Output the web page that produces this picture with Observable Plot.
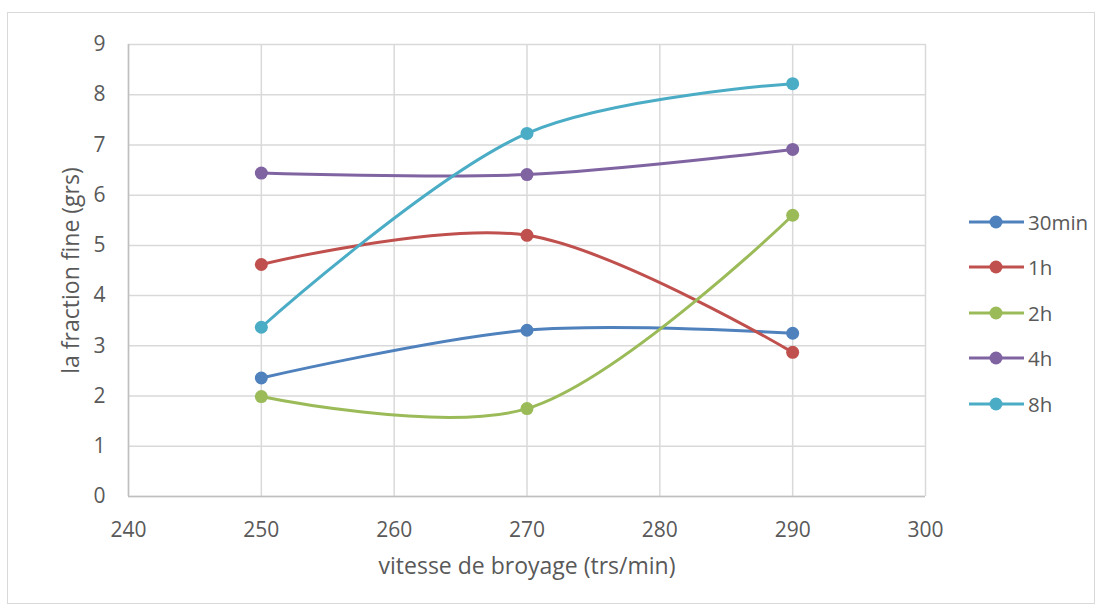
<!DOCTYPE html>
<html>
<head>
<meta charset="utf-8">
<script src="https://cdn.jsdelivr.net/npm/d3@7"></script>
<script src="https://cdn.jsdelivr.net/npm/@observablehq/plot@0.6"></script>
<style>
  html, body { margin: 0; padding: 0; background: #fff; }
  #wrap { position: relative; width: 1102px; height: 608px; font-family: "Open Sans", sans-serif; }
  #frame { position: absolute; left: 7px; top: 12px; width: 1088px; height: 592px; border: 1px solid #d9d9d9; box-sizing: border-box; }
  #chart { position: absolute; left: 0; top: 0; }
  #legend { position: absolute; left: 969px; top: 199px; }
  .item { display: flex; align-items: center; height: 45.5px; font-size: 20.5px; color: #595959; }
  .item svg { margin-right: 4px; }
</style>
</head>
<body>
<div id="wrap">
  <div id="frame"></div>
  <div id="chart"></div>
  <div id="legend"></div>
</div>
<script>
const speeds = [250, 270, 290];
const seriesNames = ["30min", "1h", "2h", "4h", "8h"];
const v30min = [2.36, 3.31, 3.25];
const v1h = [4.62, 5.20, 2.87];
const v2h = [1.99, 1.75, 5.60];
const v4h = [6.44, 6.41, 6.91];
const v8h = [3.37, 7.23, 8.22];
const seriesColors = ["#4f81bd", "#c0504d", "#9bbb59", "#8064a2", "#4bacc6"];
const xTicks = [240, 250, 260, 270, 280, 290, 300];
const yTicks = [0, 1, 2, 3, 4, 5, 6, 7, 8, 9];
const xLabel = "vitesse de broyage (trs/min)";
const yLabel = "la fraction fine (grs)";

const allValues = [v30min, v1h, v2h, v4h, v8h];
const data = [];
seriesNames.forEach((s, i) => {
  speeds.forEach((x, j) => data.push({series: s, x, y: allValues[i][j]}));
});

const chart = Plot.plot({
  width: 1102,
  height: 608,
  marginLeft: 128,
  marginRight: 177,
  marginTop: 44,
  marginBottom: 112,
  style: {background: "transparent", fontFamily: "Open Sans, sans-serif", color: "#595959"},
  x: {domain: [240, 300]},
  y: {domain: [0, 9]},
  color: {domain: seriesNames, range: seriesColors},
  marks: [
    Plot.gridX(xTicks, {stroke: "#d9d9d9", strokeOpacity: 1, strokeWidth: 1.5}),
    Plot.gridY(yTicks, {stroke: "#d9d9d9", strokeOpacity: 1, strokeWidth: 1.5}),
    Plot.ruleY([0], {stroke: "#bfbfbf", strokeWidth: 1.5}),
    Plot.ruleX([240], {stroke: "#bfbfbf", strokeWidth: 1.5}),
    Plot.axisX({ticks: xTicks, tickSize: 0, tickPadding: 26, fill: "#595959", fontSize: "21px", label: null}),
    Plot.axisY({ticks: yTicks, tickSize: 0, tickPadding: 23, fill: "#595959", fontSize: "21px", label: null}),
    Plot.axisX({ticks: [], label: xLabel, labelAnchor: "center", labelArrow: "none", labelOffset: 77, fontSize: "23px", fill: "#595959"}),
    Plot.axisY({ticks: [], label: yLabel, labelAnchor: "center", labelArrow: "none", labelOffset: 66, fontSize: "23px", fill: "#595959"}),
    Plot.line(data, {x: "x", y: "y", z: "series", stroke: "series", strokeWidth: 3, curve: "catmull-rom"}),
    Plot.dot(data, {x: "x", y: "y", fill: "series", r: 6.5})
  ]
});
document.getElementById("chart").appendChild(chart);

const legend = document.getElementById("legend");
seriesNames.forEach((s, i) => {
  const div = document.createElement("div");
  div.className = "item";
  div.innerHTML = `<svg width="55" height="16"><line x1="0" y1="8" x2="55" y2="8" stroke="${seriesColors[i]}" stroke-width="3"/><circle cx="27" cy="8" r="6.5" fill="${seriesColors[i]}"/></svg><span>${s}</span>`;
  legend.appendChild(div);
});
</script>
</body>
</html>
